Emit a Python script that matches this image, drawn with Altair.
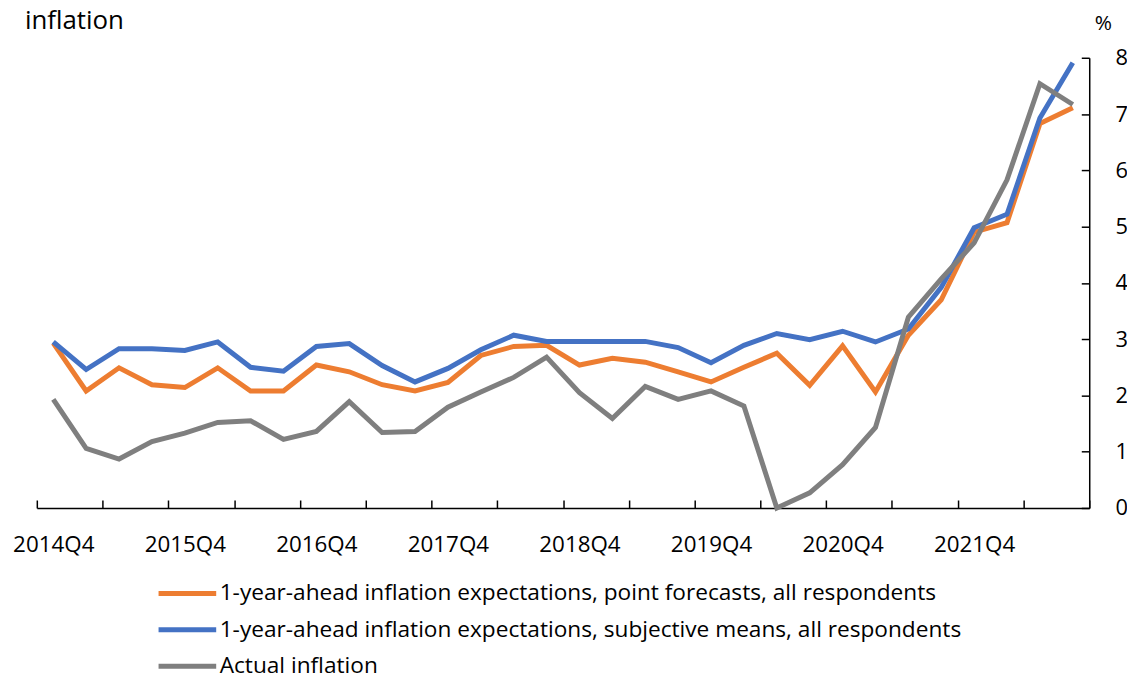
import json
import altair as alt
import pandas as pd

quarters = [
    "2014Q4", "2015Q1", "2015Q2", "2015Q3", "2015Q4", "2016Q1", "2016Q2", "2016Q3",
    "2016Q4", "2017Q1", "2017Q2", "2017Q3", "2017Q4", "2018Q1", "2018Q2", "2018Q3",
    "2018Q4", "2019Q1", "2019Q2", "2019Q3", "2019Q4", "2020Q1", "2020Q2", "2020Q3",
    "2020Q4", "2021Q1", "2021Q2", "2021Q3", "2021Q4", "2022Q1", "2022Q2", "2022Q3",
]
point_forecasts = [
    2.93, 2.08, 2.49, 2.19, 2.14, 2.49, 2.08, 2.08, 2.54, 2.42, 2.19, 2.08, 2.23, 2.71, 2.87, 2.89,
    2.54, 2.66, 2.59, 2.42, 2.24, 2.50, 2.75, 2.18, 2.88, 2.06, 3.07, 3.70, 4.90, 5.07, 6.83, 7.11,
]
subjective_means = [
    2.95, 2.46, 2.83, 2.83, 2.80, 2.95, 2.50, 2.43, 2.87, 2.92, 2.53, 2.24, 2.48, 2.81, 3.07, 2.96,
    2.96, 2.96, 2.96, 2.85, 2.58, 2.89, 3.10, 2.99, 3.14, 2.95, 3.18, 3.92, 4.98, 5.22, 6.93, 7.91,
]
actual_inflation = [
    1.93, 1.06, 0.87, 1.18, 1.33, 1.52, 1.55, 1.22, 1.36, 1.89, 1.34, 1.36, 1.79, 2.06, 2.32, 2.68,
    2.05, 1.59, 2.16, 1.93, 2.08, 1.81, 0.00, 0.27, 0.77, 1.43, 3.39, 4.07, 4.71, 5.83, 7.54, 7.17,
]
series_names = [
    "1-year-ahead inflation expectations, point forecasts, all respondents",
    "1-year-ahead inflation expectations, subjective means, all respondents",
    "Actual inflation",
]
series_colors = ["#ED7D31", "#4472C4", "#7F7F7F"]
y_ticks = [0, 1, 2, 3, 4, 5, 6, 7, 8]

rows = []
for name, vals in zip(series_names, [point_forecasts, subjective_means, actual_inflation]):
    for i, (q, v) in enumerate(zip(quarters, vals)):
        rows.append({"series": name, "idx": i, "quarter": q, "value": v})
df = pd.DataFrame(rows)

n = len(quarters)
tick_bounds = [i - 0.5 for i in range(0, n + 1, 2)]
label_pos = list(range(0, n, 4))
label_expr = f"datum.value % 4 === 0 ? {json.dumps(quarters)}[datum.value] : ''"

FONT = "Open Sans"

x_axis = alt.Axis(
    values=tick_bounds + label_pos,
    labelExpr=label_expr,
    title=None,
    grid=False,
    domainColor="black",
    domainWidth=1.5,
    tickColor="black",
    tickWidth=1.5,
    tickSize={"expr": "-8"},
    tickOpacity={"condition": {"test": "datum.value % 1 !== 0", "value": 1}, "value": 0},
    labelPadding=34,
    labelFontSize=22.5,
    labelFont=FONT,
    labelColor="black",
    labelOverlap=False,
    labelFlush=False,
)

y_axis = alt.Axis(
    orient="right",
    values=y_ticks,
    grid=False,
    domainColor="black",
    domainWidth=1.5,
    tickColor="black",
    tickWidth=1.5,
    tickSize={"expr": "-8"},
    labelPadding=34,
    labelFontSize=22,
    labelFont=FONT,
    labelColor="black",
    title="%",
    titleAngle=0,
    titleAlign="left",
    titleBaseline="alphabetic",
    titleX=5,
    titleY=-28,
    titleFontSize=21,
    titleFont=FONT,
    titleFontWeight="normal",
    titleColor="black",
)

legend = alt.Legend(
    title=None,
    orient="none",
    legendX=120,
    legendY=528,
    direction="vertical",
    symbolType="stroke",
    symbolSize=3364,
    symbolStrokeWidth=5,
    clipHeight=22,
    rowPadding=13.6,
    labelFontSize=22.8,
    labelFont=FONT,
    labelColor="black",
    labelLimit=1000,
    labelOffset=1,
    padding=0,
)

chart = (
    alt.Chart(df)
    .mark_line(strokeWidth=5)
    .encode(
        x=alt.X("idx:Q", scale=alt.Scale(domain=[-0.5, n - 0.5], nice=False, zero=False), axis=x_axis),
        y=alt.Y("value:Q", scale=alt.Scale(domain=[0, 8], nice=False), axis=y_axis),
        color=alt.Color("series:N", scale=alt.Scale(domain=series_names, range=series_colors), legend=legend),
    )
    .properties(
        width=1059,
        height=453,
        padding={"left": 29, "top": 48, "right": 38, "bottom": 166},
        autosize=alt.AutoSizeParams(type="none"),
        title=alt.Title(
            "inflation",
            anchor="start",
            frame="group",
            fontSize=26,
            font=FONT,
            fontWeight="normal",
            color="black",
            dx=-12,
            dy=25,
        ),
    )
    .configure_view(stroke=None)
)

chart.save("out.html", embed_options={"renderer": "svg", "actions": False})
